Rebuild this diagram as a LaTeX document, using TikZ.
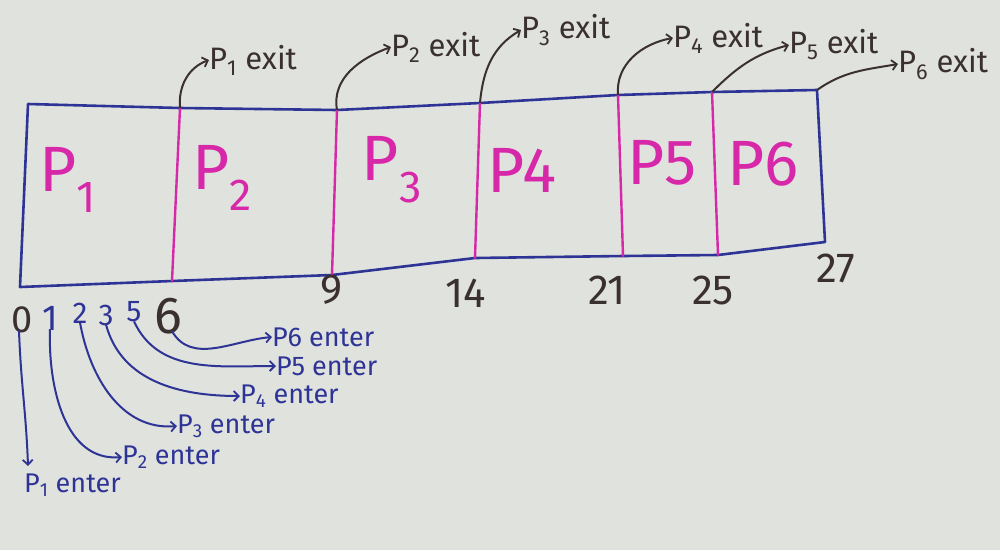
\documentclass[tikz,border=0pt]{standalone}
\usepackage{fontspec}
\setmainfont{Fira Sans}
\usetikzlibrary{arrows.meta}
\definecolor{paper}{RGB}{224,226,221}
\definecolor{pen}{RGB}{46,52,150}
\definecolor{mag}{RGB}{214,40,168}
\definecolor{ink}{RGB}{58,48,48}
\tikzset{
  boxline/.style={draw=pen, line width=2.6pt, line join=round},
  divider/.style={draw=mag, line width=2.4pt, line cap=round},
  exitarrow/.style={draw=ink, line width=2pt, -{Straight Barb[length=5pt,width=10pt,line width=1.8pt]}},
  enterarrow/.style={draw=pen, line width=2pt, -{Straight Barb[length=5pt,width=10pt,line width=1.8pt]}},
  plabel/.style={text=mag, font=\fontsize{64}{66}\selectfont, inner sep=0pt},
  exitlabel/.style={text=ink, font=\fontsize{31}{33}\selectfont, anchor=west, inner sep=0pt},
  enterlabel/.style={text=pen, font=\fontsize{27}{29}\selectfont, anchor=west, inner sep=0pt},
  tick/.style={text=ink, font=\fontsize{42}{44}\selectfont, inner sep=1pt},
  bluetick/.style={text=pen, font=\fontsize{30}{32}\selectfont, inner sep=1pt}
}
\begin{document}
\begin{tikzpicture}[x=1pt,y=-1pt]
  \fill[paper] (0,0) rectangle (1000,550);
  \useasboundingbox (0,0) rectangle (1000,550);

  % corners and boundary points of the chart
  \coordinate (tl) at (28,104);
  \coordinate (t6) at (180,108);
  \coordinate (t9) at (337,110);
  \coordinate (t14) at (480,103);
  \coordinate (t21) at (618,95);
  \coordinate (t25) at (712,92);
  \coordinate (tr) at (817,90);
  \coordinate (br) at (825,242);
  \coordinate (b25) at (718,255);
  \coordinate (b21) at (623,256);
  \coordinate (b14) at (475,258);
  \coordinate (b9) at (332,275);
  \coordinate (b6) at (172,281);
  \coordinate (bl) at (20,287);

  % outline of the chart
  \draw[boxline] (tl) -- (t6) -- (t9) -- (t14) -- (t21) -- (t25) -- (tr)
    -- (br) -- (b25) -- (b21) -- (b14) -- (b9) -- (b6) -- (bl) -- cycle;

  % process boundaries
  \draw[divider] (t6) -- (b6);
  \draw[divider] (t9) -- (b9);
  \draw[divider] (t14) -- (b14);
  \draw[divider] (t21) -- (b21);
  \draw[divider] (t25) -- (b25);

  % process names
  \node[plabel] (p1) at (68,180) {P\textsubscript{1}};
  \node[plabel] (p2) at (222,178) {P\textsubscript{2}};
  \node[plabel] (p3) at (392,170) {P\textsubscript{3}};
  \node[plabel] (p4) at (522,170) {P4};
  \node[plabel] (p5) at (662,163) {P5};
  \node[plabel] (p6) at (763,164) {P6};

  % completion times
  \node[tick] (n9) at (332,290) {9};
  \node[tick] (n14) at (466,293) {14};
  \node[tick] (n21) at (607,290) {21};
  \node[tick] (n25) at (713,290) {25};
  \node[tick] (n27) at (836,268) {27};

  % arrival times
  \node[tick, font=\fontsize{38}{40}\selectfont] (n0) at (22,320) {0};
  \node[bluetick, font=\fontsize{36}{38}\selectfont] (n1) at (50,318) {1};
  \node[bluetick] (n2) at (80,313) {2};
  \node[bluetick] (n3) at (106,315) {3};
  \node[bluetick] (n5) at (134,312) {5};
  \node[tick, font=\fontsize{52}{54}\selectfont] (n6) at (168,316) {6};

  % exit labels
  \node[exitlabel] (x1) at (209,60) {P\textsubscript{1} exit};
  \node[exitlabel] (x2) at (391,47) {P\textsubscript{2} exit};
  \node[exitlabel] (x3) at (521,30) {P\textsubscript{3} exit};
  \node[exitlabel] (x4) at (673,38) {P\textsubscript{4} exit};
  \node[exitlabel] (x5) at (789,45) {P\textsubscript{5} exit};
  \node[exitlabel] (x6) at (898,64) {P\textsubscript{6} exit};

  \draw[exitarrow] (t6) to[out=95,in=200] (x1.west);
  \draw[exitarrow] (t9) to[out=100,in=200] (x2.west);
  \draw[exitarrow] (t14) to[out=85,in=210] (x3.west);
  \draw[exitarrow] (t21) to[out=95,in=190] (x4.west);
  \draw[exitarrow] (t25) to[out=45,in=195] (x5.west);
  \draw[exitarrow] (tr) to[out=35,in=190] (x6.west);

  % enter labels
  \node[enterlabel, anchor=north west] (e1) at (24,474) {P\textsubscript{1} enter};
  \node[enterlabel] (e2) at (122,457) {P\textsubscript{2} enter};
  \node[enterlabel] (e3) at (177,426) {P\textsubscript{3} enter};
  \node[enterlabel] (e4) at (240,396) {P\textsubscript{4} enter};
  \node[enterlabel] (e5) at (276,366) {P5 enter};
  \node[enterlabel] (e6) at (272,337) {P6 enter};

  \draw[enterarrow] ([xshift=-3pt,yshift=4pt]n0.south) to[out=-88,in=92] ([xshift=4pt,yshift=8pt]e1.north west);
  \draw[enterarrow] ([yshift=2pt]n1.south) to[out=-92,in=185] (e2.west);
  \draw[enterarrow] ([yshift=2pt]n2.south) to[out=-80,in=185] (e3.west);
  \draw[enterarrow] ([yshift=2pt]n3.south) to[out=-75,in=180] (e4.west);
  \draw[enterarrow] ([yshift=2pt]n5.south) to[out=-65,in=180] (e5.west);
  \draw[enterarrow] ([yshift=4pt,xshift=4pt]n6.south) to[out=-60,in=185] (e6.west);
\end{tikzpicture}
\end{document}
